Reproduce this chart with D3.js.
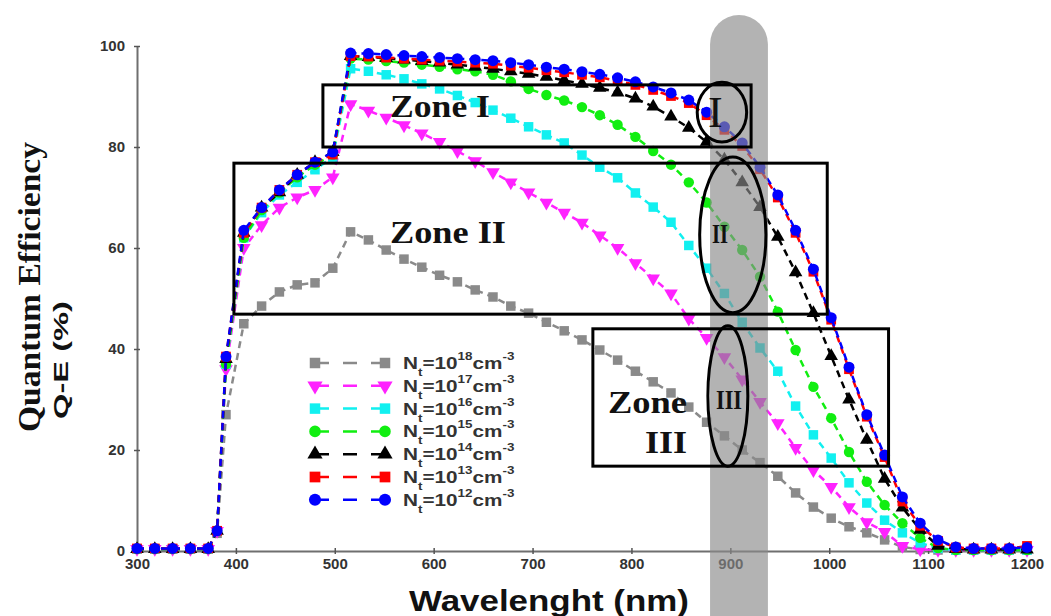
<!DOCTYPE html>
<html lang="en">
<head>
<meta charset="utf-8">
<title>Quantum Efficiency</title>
<script src="https://d3js.org/d3.v7.min.js"></script>
<style>body{margin:0;background:#fff;}</style>
</head>
<body>
<script>
// wavelength grid (nm)
var wavelength = [300,318,336,354,372,381,390,408,426,444,462,480,498,516,534,552,570,588,606,624,642,660,678,696,714,732,750,768,786,804,822,840,858,876,894,912,930,948,966,984,1002,1020,1038,1056,1074,1092,1110,1128,1146,1164,1182,1200];

// QE (%) for each defect density Nt
var qe18 = [0.4,0.4,0.4,0.4,0.4,3.5,27,45,48.5,51.3,52.7,53.1,56,63.2,61.6,59.6,57.8,56.2,54.6,53.3,51.7,50.3,48.5,47.1,45.3,43.6,41.8,39.8,37.8,35.6,33.5,31.3,28.5,25.5,22.8,20,17.5,14.8,11.5,8.7,6.5,4.8,3.6,2.2,0.8,0.3,0.2,0.2,0.2,0.2,0.2,0.2];
var qe17 = [0.4,0.4,0.4,0.4,0.4,4,36,60,64.5,68,70,71.5,74,88.5,87.2,85.8,84.3,82.7,81,79.2,77.2,75,73,71,69,67,65,62.5,60,57,54,51,46,42.2,38.4,34,29.5,25.3,20.4,16,12.7,8.7,5.7,3.8,1,0.3,0.2,0.2,0.2,0.2,0.2,0.2];
var qe16 = [0.4,0.4,0.4,0.4,0.4,4,37,62,67,70.5,73,75.5,78,95.5,95,94.3,93.5,92.5,91.5,90.2,88.8,87.3,85.7,84,82.4,80.8,78.4,76,73.9,70.9,68.1,65.1,60.5,56,51,45.3,40.2,35.6,28.7,23,18.4,13.5,9.5,6.1,3.6,1.6,0.5,0.2,0.2,0.2,0.2,0.2];
var qe15 = [0.4,0.4,0.4,0.4,0.4,4,37,62,67.5,71,74,76.5,78.5,97.5,97.3,97,96.7,96.3,95.9,95.4,95,94.3,93,91.5,90.3,89.2,87.9,86.3,84.4,82,79.2,76.5,73,69,64.2,59.6,54.3,47.4,39.8,32.5,26.3,19.6,13.7,9.1,5.5,2.6,0.6,0.2,0.2,0.2,0.2,0.2];
var qe14 = [0.4,0.4,0.4,0.4,0.4,4,38,63,68,71,74.5,77,79,98,97.8,97.6,97.3,97,96.7,96.3,95.9,95.5,95,94.5,93.9,93.2,92.5,91.7,90.8,89.6,88,86,83.8,81,77.5,73,68.1,62.2,55.2,47.1,38.6,30,22,14.3,8.6,4.2,1,0.4,0.3,0.3,0.3,0.3];
var qe13 = [0.5,0.5,0.5,0.5,0.5,4,38.5,63,68,71.5,74.5,77,78.5,98,97.9,97.7,97.5,97.3,97.1,96.9,96.7,96.5,96.1,95.7,95.2,94.8,94.3,93.8,93.1,92.3,91.3,90.1,88.7,86.3,83.4,80.2,75.6,70,63,55.3,45.8,36,26.6,18.6,9.8,5,2,0.7,0.5,0.5,0.5,1];
var qe12 = [0.5,0.5,0.5,0.5,0.5,4,38.5,63.5,68,71.5,74.5,77,79,98.6,98.5,98.3,98.1,97.9,97.7,97.5,97.3,97.1,96.7,96.3,95.8,95.4,94.9,94.4,93.7,92.9,91.9,90.7,89.3,86.9,84,80.8,76,70.5,63.5,55.8,46.2,36.4,27,19,10.7,5.5,2.2,0.8,0.5,0.5,0.5,0.7];

var exponents = ["18","17","16","15","14","13","12"];
var xTicks = [300,400,500,600,700,800,900,1000,1100,1200];
var yTicks = [0,20,40,60,80,100];

var series = [
  {exp: "18", values: qe18, color: "#8a8a8a", shape: d3.symbolSquare, size: 90, rot: 0},
  {exp: "17", values: qe17, color: "#ff22ff", shape: d3.symbolTriangle, size: 80, rot: 180},
  {exp: "16", values: qe16, color: "#11f0f0", shape: d3.symbolSquare, size: 90, rot: 0},
  {exp: "15", values: qe15, color: "#11ee11", shape: d3.symbolCircle, size: 85, rot: 0},
  {exp: "14", values: qe14, color: "#000000", shape: d3.symbolTriangle, size: 80, rot: 0},
  {exp: "13", values: qe13, color: "#ff0000", shape: d3.symbolSquare, size: 95, rot: 0},
  {exp: "12", values: qe12, color: "#0000ff", shape: d3.symbolCircle, size: 95, rot: 0}
];

var svg = d3.select("body").append("svg")
  .attr("width", 1051)
  .attr("height", 616);

var x = d3.scaleLinear().domain([300, 1200]).range([137, 1027]);
var y = d3.scaleLinear().domain([0, 100]).range([551, 46]);

// axes
var gx = svg.append("g")
  .attr("transform", "translate(0,551)")
  .call(d3.axisBottom(x).tickValues(xTicks).tickFormat(d3.format("d")).tickSize(3).tickSizeOuter(0));
gx.select(".domain").attr("stroke", "#6f6f6f").attr("stroke-width", 2);
gx.selectAll(".tick line").attr("stroke", "#555").attr("y1", -3).attr("stroke-width", 1.5);
gx.selectAll(".tick text")
  .attr("y", 18).attr("dy", null)
  .attr("font-family", "Liberation Sans, Arial, sans-serif")
  .attr("font-weight", "bold").attr("font-size", 15).attr("fill", "#333");

var gy = svg.append("g")
  .attr("transform", "translate(137,0)")
  .call(d3.axisLeft(y).tickValues(yTicks).tickSize(3).tickSizeOuter(0));
gy.select(".domain").attr("stroke", "#6f6f6f").attr("stroke-width", 2);
gy.selectAll(".tick line").attr("stroke", "#555").attr("x1", 3).attr("stroke-width", 1.5);
gy.selectAll(".tick text")
  .attr("x", -12).attr("dy", "0.3em")
  .attr("font-family", "Liberation Sans, Arial, sans-serif")
  .attr("font-weight", "bold").attr("font-size", 15).attr("fill", "#333");

// curves
var line = d3.line()
  .x(function(d, i) { return x(wavelength[i]); })
  .y(function(d) { return y(d); });

series.forEach(function(s) {
  var g = svg.append("g");
  g.append("path")
    .attr("d", line(s.values))
    .attr("fill", "none")
    .attr("stroke", s.color)
    .attr("stroke-width", 2.5)
    .attr("stroke-dasharray", "7,5");
  g.selectAll("path.m")
    .data(s.values)
    .enter()
    .append("path")
      .attr("class", "m")
      .attr("d", d3.symbol().type(s.shape).size(s.size))
      .attr("transform", function(d, i) {
        return "translate(" + x(wavelength[i]) + "," + y(d) + ") rotate(" + s.rot + ")";
      })
      .attr("fill", s.color);
});

// gray vertical band
svg.append("rect")
  .attr("x", x(879.5)).attr("y", 15)
  .attr("width", x(938) - x(879.5)).attr("height", 660)
  .attr("rx", 29)
  .attr("fill", "#8a8a8a").attr("opacity", 0.65);

// zone boxes
var zones = [
  {x0: 488, x1: 921, y0: 92.3, y1: 80},
  {x0: 398, x1: 998, y0: 76.8, y1: 46.9},
  {x0: 761, x1: 1060, y0: 44, y1: 16.8}
];
svg.selectAll("rect.zone")
  .data(zones)
  .enter()
  .append("rect")
    .attr("class", "zone")
    .attr("x", function(d) { return x(d.x0); })
    .attr("y", function(d) { return y(d.y0); })
    .attr("width", function(d) { return x(d.x1) - x(d.x0); })
    .attr("height", function(d) { return y(d.y1) - y(d.y0); })
    .attr("fill", "none").attr("stroke", "#000").attr("stroke-width", 3);

var rings = [
  {cx: 891.5, cy: 86.9, rx: 25, ry: 5.9},
  {cx: 902.5, cy: 62.6, rx: 33.5, ry: 15.4},
  {cx: 897.5, cy: 30.7, rx: 20.2, ry: 13.9}
];
svg.selectAll("ellipse")
  .data(rings)
  .enter()
  .append("ellipse")
    .attr("cx", function(d) { return x(d.cx); })
    .attr("cy", function(d) { return y(d.cy); })
    .attr("rx", function(d) { return x(d.cx + d.rx) - x(d.cx); })
    .attr("ry", function(d) { return y(d.cy - d.ry) - y(d.cy); })
    .attr("fill", "none").attr("stroke", "#000").attr("stroke-width", 3);

function serifText(txt, px, py, size, len, weight) {
  var t = svg.append("text")
    .attr("x", px).attr("y", py)
    .attr("font-family", "Liberation Serif, Times New Roman, serif")
    .attr("font-weight", weight || "bold")
    .attr("font-size", size)
    .attr("fill", "#111")
    .text(txt);
  if (len) t.attr("textLength", len).attr("lengthAdjust", "spacingAndGlyphs");
  return t;
}

serifText("Zone I", 390, 117, 31, 100);
serifText("Zone II", 390, 243, 31, 116);
serifText("Zone", 608, 413, 32, 79);
serifText("III", 645, 453, 32, 42);
serifText("I", 708, 127, 44, null, "normal");
serifText("II", 712, 243, 28, 16);
serifText("III", 716, 409, 28, 26);

// axis titles
svg.append("text")
  .attr("transform", "translate(40,287) rotate(-90)")
  .attr("text-anchor", "middle")
  .attr("font-family", "Liberation Serif, Times New Roman, serif")
  .attr("font-weight", "bold").attr("font-size", 31).attr("fill", "#111")
  .attr("textLength", 290).attr("lengthAdjust", "spacingAndGlyphs")
  .text("Quantum Efficiency");

svg.append("text")
  .attr("transform", "translate(68,360) rotate(-90)")
  .attr("text-anchor", "middle")
  .attr("font-family", "Liberation Sans, Arial, sans-serif")
  .attr("font-weight", "bold").attr("font-size", 20).attr("fill", "#111")
  .attr("textLength", 118).attr("lengthAdjust", "spacingAndGlyphs")
  .text("Q-E (%)");

svg.append("text")
  .attr("x", 549).attr("y", 611)
  .attr("text-anchor", "middle")
  .attr("font-family", "Liberation Sans, Arial, sans-serif")
  .attr("font-weight", "bold").attr("font-size", 30).attr("fill", "#111")
  .attr("textLength", 280).attr("lengthAdjust", "spacingAndGlyphs")
  .text("Wavelenght (nm)");

// legend
var legend = svg.append("g");
series.forEach(function(s, i) {
  var ly = 363 + i * 22.8;
  legend.append("line")
    .attr("x1", 315).attr("x2", 385).attr("y1", ly).attr("y2", ly)
    .attr("stroke", s.color).attr("stroke-width", 2.5)
    .attr("stroke-dasharray", "14,14");
  [315, 385].forEach(function(px) {
    legend.append("path")
      .attr("d", d3.symbol().type(s.shape).size(s.size + 20))
      .attr("transform", "translate(" + px + "," + ly + ") rotate(" + s.rot + ")")
      .attr("fill", s.color);
  });
  var t = legend.append("text")
    .attr("transform", "translate(403," + (ly + 6) + ") scale(1.22,1)")
    .attr("font-family", "Liberation Sans, Arial, sans-serif")
    .attr("font-weight", "bold").attr("font-size", 17).attr("fill", "#333");
  t.append("tspan").text("N");
  t.append("tspan").attr("font-size", 11).attr("dy", 7).text("t");
  t.append("tspan").attr("dy", -7).text("=10");
  t.append("tspan").attr("font-size", 11).attr("dy", -9).text(exponents[i]);
  t.append("tspan").attr("dy", 9).text("cm");
  t.append("tspan").attr("font-size", 11).attr("dy", -9).text("-3");
});
</script>
</body>
</html>
